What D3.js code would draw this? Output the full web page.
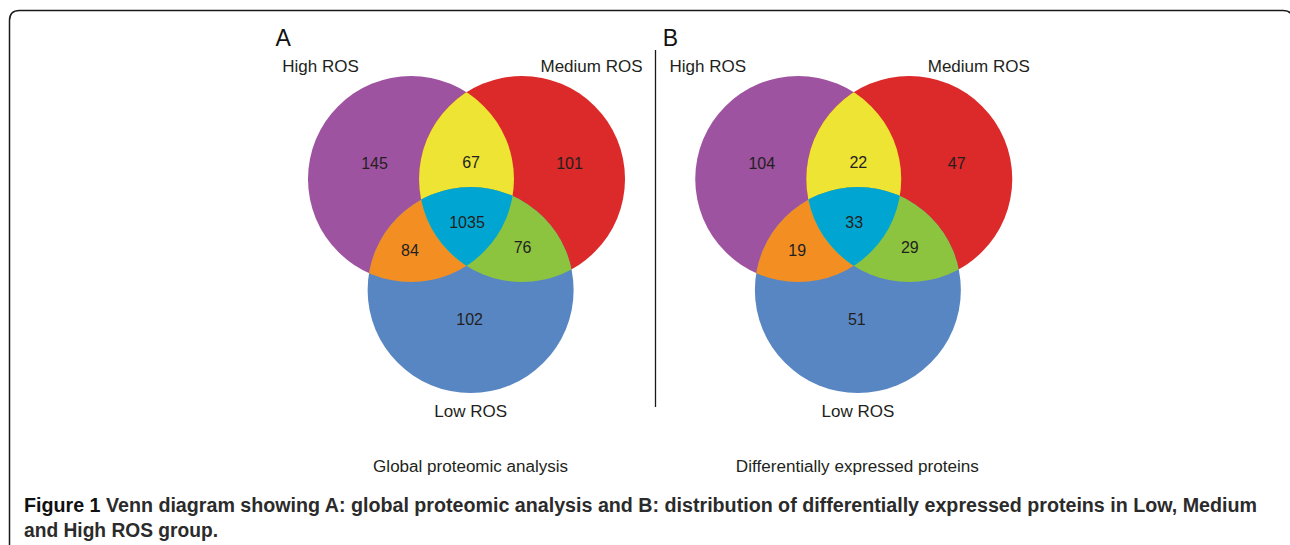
<!DOCTYPE html>
<html>
<head>
<meta charset="utf-8">
<script src="https://cdn.jsdelivr.net/npm/d3@7"></script>
<style>
  html, body { margin: 0; padding: 0; background: #fff; }
  svg { display: block; }
</style>
</head>
<body>
<svg id="fig" width="1290" height="545"></svg>
<script>
// ---- data ----
const setNames = ["High ROS", "Medium ROS", "Low ROS"];
const setColors = ["#9e53a0", "#dc292a", "#5886c2"];
// region order: only H, H∩M, only M, H∩M∩L, H∩L, M∩L, only L
const regionKeys = ["H", "HM", "M", "HML", "HL", "ML", "L"];
const overlapColors = { HM: "#eee434", HL: "#f38f22", ML: "#8cc43f", HML: "#00a5d1" };
const panelLetters = ["A", "B"];
const panelTitles = ["Global proteomic analysis", "Differentially expressed proteins"];
const globalCounts = [145, 67, 101, 1035, 84, 76, 102];
const diffCounts = [104, 22, 47, 33, 19, 29, 51];
const captionLead = "Figure 1";
const captionLine1 = " Venn diagram showing A: global proteomic analysis and B: distribution of differentially expressed proteins in Low, Medium";
const captionLine2 = "and High ROS group.";

// ---- layout ----
const W = 1290, H = 545;
const R = 103;                       // circle radius in px
const panels = [
  { letter: panelLetters[0], title: panelTitles[0], counts: globalCounts, cx: 466.5 },
  { letter: panelLetters[1], title: panelTitles[1], counts: diffCounts,   cx: 853.75 }
];
// circle centres in radius units, relative to the panel anchor
const circleUnits = [
  { x: -0.539, y: 0 },      // High
  { x:  0.539, y: 0 },      // Medium
  { x:  0.04,  y: 1.078 }   // Low
];
// count-label anchors in radius units
const labelUnits = {
  H:   { x: -0.893, y: -0.155 },
  HM:  { x:  0.044, y: -0.158 },
  M:   { x:  1.0,   y: -0.150 },
  HML: { x:  0.005, y:  0.424 },
  HL:  { x: -0.549, y:  0.689 },
  ML:  { x:  0.544, y:  0.667 },
  L:   { x:  0.03,  y:  1.362 }
};
const topCy = 179;

const svg = d3.select("#fig");
const defs = svg.append("defs");
const ink = "#231f20";
const sans = "'Liberation Sans', Arial, Helvetica, sans-serif";

// outer frame: rounded box open at the bottom, running off the right edge
const fr = 10, fx = 9.5, fy = 10.5, fRight = 1293;
svg.append("path")
  .attr("d", `M${fx},${H + 5} L${fx},${fy + fr} Q${fx},${fy} ${fx + fr},${fy} L${fRight - fr},${fy} Q${fRight},${fy} ${fRight},${fy + fr} L${fRight},${H + 5}`)
  .attr("fill", "none").attr("stroke", "#1a1a1a").attr("stroke-width", 1.5);

panels.forEach((p, pi) => {
  const x = d3.scaleLinear().domain([0, 1]).range([p.cx, p.cx + R]);
  const y = d3.scaleLinear().domain([0, 1]).range([topCy, topCy + R]);
  const circles = circleUnits.map((c, i) => ({ cx: x(c.x), cy: y(c.y), color: setColors[i], name: setNames[i] }));

  const g = svg.append("g");

  // clip paths, one per circle
  circles.forEach((c, i) => {
    defs.append("clipPath").attr("id", `clip-${pi}-${i}`)
      .append("circle").attr("cx", c.cx).attr("cy", c.cy).attr("r", R);
  });

  // whole circles
  g.selectAll("circle.set").data(circles).join("circle")
    .attr("class", "set")
    .attr("cx", d => d.cx).attr("cy", d => d.cy).attr("r", R)
    .attr("fill", d => d.color);

  // pairwise overlaps
  const pairs = [["HM", 0, 1], ["HL", 0, 2], ["ML", 1, 2]];
  pairs.forEach(([key, a, b]) => {
    g.append("circle")
      .attr("cx", circles[b].cx).attr("cy", circles[b].cy).attr("r", R)
      .attr("clip-path", `url(#clip-${pi}-${a})`)
      .attr("fill", overlapColors[key]);
  });
  // triple overlap
  g.append("g").attr("clip-path", `url(#clip-${pi}-0)`)
    .append("circle")
    .attr("cx", circles[2].cx).attr("cy", circles[2].cy).attr("r", R)
    .attr("clip-path", `url(#clip-${pi}-1)`)
    .attr("fill", overlapColors.HML);

  // counts
  const fs = 16;
  g.selectAll("text.count").data(regionKeys.map((k, i) => ({ k, v: p.counts[i] }))).join("text")
    .attr("class", "count")
    .attr("x", d => x(labelUnits[d.k].x))
    .attr("y", d => y(labelUnits[d.k].y) + fs * 0.36)
    .attr("text-anchor", "middle")
    .attr("font-family", sans).attr("font-size", fs).attr("fill", ink)
    .text(d => d.v);

  // set names
  const nameFs = 17;
  g.append("text").attr("x", p.cx - 146).attr("y", 72).attr("text-anchor", "middle")
    .attr("font-family", sans).attr("font-size", nameFs).attr("fill", ink).text(setNames[0]);
  g.append("text").attr("x", p.cx + 125).attr("y", 72).attr("text-anchor", "middle")
    .attr("font-family", sans).attr("font-size", nameFs).attr("fill", ink).text(setNames[1]);
  g.append("text").attr("x", circles[2].cx).attr("y", 417).attr("text-anchor", "middle")
    .attr("font-family", sans).attr("font-size", nameFs).attr("fill", ink).text(setNames[2]);

  // panel letter
  g.append("text").attr("x", p.cx - 191).attr("y", 46)
    .attr("font-family", sans).attr("font-size", 23).attr("fill", "#111").text(p.letter);

  // panel title
  g.append("text").attr("x", circles[2].cx + (pi === 0 ? 0 : -0.5)).attr("y", 472).attr("text-anchor", "middle")
    .attr("font-family", sans).attr("font-size", 16).attr("fill", ink)
    .attr("textLength", pi === 0 ? 195 : 243).attr("lengthAdjust", "spacingAndGlyphs")
    .text(p.title);
});

// divider between panels
svg.append("line").attr("x1", 655.5).attr("x2", 655.5).attr("y1", 50).attr("y2", 407)
  .attr("stroke", "#1a1a1a").attr("stroke-width", 1.3);

// caption
const capFont = "'Liberation Sans Narrow', 'Liberation Sans', Arial, sans-serif";
const cap1 = svg.append("text").attr("x", 24).attr("y", 512)
  .attr("font-family", capFont).attr("font-size", 20).attr("font-weight", "bold").attr("fill", ink)
  .attr("textLength", 1233).attr("lengthAdjust", "spacingAndGlyphs");
cap1.append("tspan").attr("fill", "#111").text(captionLead);
cap1.append("tspan").attr("fill", "#2b2b2b").text(captionLine1);
svg.append("text").attr("x", 24).attr("y", 537)
  .attr("font-family", capFont).attr("font-size", 20).attr("font-weight", "bold").attr("fill", "#2b2b2b")
  .attr("textLength", 194).attr("lengthAdjust", "spacingAndGlyphs")
  .text(captionLine2);
</script>
</body>
</html>
